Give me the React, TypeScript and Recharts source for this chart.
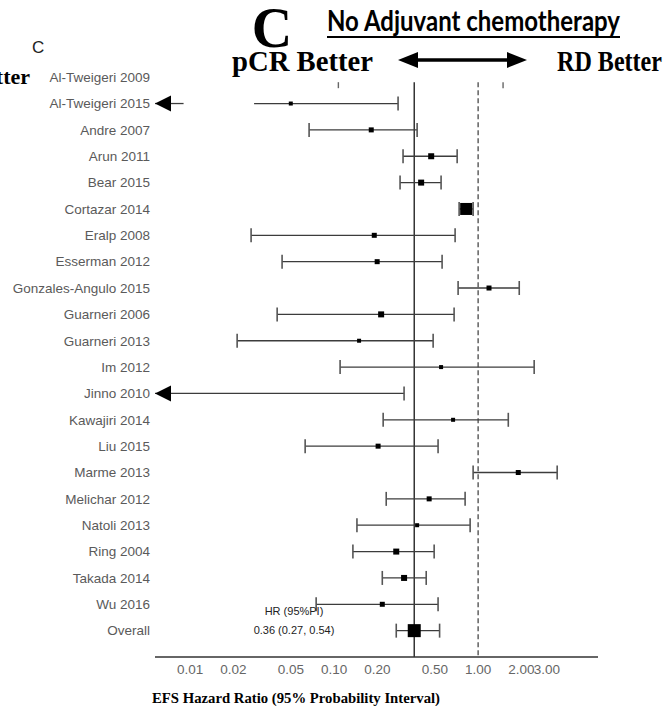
import React from "react";
import { ScatterChart, Scatter, XAxis, YAxis } from "recharts";

const studies = [
  "Al-Tweigeri 2009",
  "Al-Tweigeri 2015",
  "Andre 2007",
  "Arun 2011",
  "Bear 2015",
  "Cortazar 2014",
  "Eralp 2008",
  "Esserman 2012",
  "Gonzales-Angulo 2015",
  "Guarneri 2006",
  "Guarneri 2013",
  "Im 2012",
  "Jinno 2010",
  "Kawajiri 2014",
  "Liu 2015",
  "Marme 2013",
  "Melichar 2012",
  "Natoli 2013",
  "Ring 2004",
  "Takada 2014",
  "Wu 2016",
  "Overall",
];

// hazard ratio point estimates (null = not shown)
const hr = [
  null, 0.05, 0.181, 0.472, 0.402, 0.826, 0.19, 0.199, 1.19, 0.212, 0.149,
  0.553, null, 0.67, 0.202, 1.9, 0.457, 0.377, 0.27, 0.306, 0.216, 0.36,
];
// lower bound of 95% PI (null = truncated, drawn as arrow)
const lower = [
  0.107, 0.0278, 0.067, 0.301, 0.287, 0.738, 0.0265, 0.0435, 0.726, 0.0402,
  0.0212, 0.11, null, 0.219, 0.0629, 0.923, 0.23, 0.144, 0.135, 0.216, 0.075,
  0.27,
];
// upper bound of 95% PI
const upper = [
  1.49, 0.278, 0.377, 0.715, 0.553, 0.923, 0.692, 0.562, 1.93, 0.681, 0.487,
  2.45, 0.306, 1.62, 0.527, 3.54, 0.812, 0.88, 0.495, 0.436, 0.527, 0.54,
];
// relative study weight (marker size)
const weights = [
  0, 1, 2, 3, 3, 9, 2, 2, 2, 3, 1, 1, 0, 1, 2, 2, 2, 1, 3, 3, 2, 10,
];

const arrowStudies = ["Al-Tweigeri 2015", "Jinno 2010"];
const arrowShaftEnd = { "Al-Tweigeri 2015": 0.009 } as Record<string, number>;
const capsOnlyStudies = ["Al-Tweigeri 2009"];
const noLeftCapStudies = ["Al-Tweigeri 2015"];

const xTicks = [0.01, 0.02, 0.05, 0.1, 0.2, 0.5, 1, 2, 3];
const pooledHR = 0.36;
const nullHR = 1;
const X_MIN = 0.0057;
const X_MAX = 6.8;
const Y_TOP = 0.19;
const Y_BOTTOM = 22;

const EndShape = (props: any) => {
  const { cx, cy, payload } = props;
  if (cx == null || cy == null || !payload) return <g />;
  switch (payload.kind) {
    case "cap":
      return (
        <line x1={cx} x2={cx} y1={cy - 7} y2={cy + 7} stroke="#555" strokeWidth={1.6} />
      );
    case "arrow":
      return (
        <polygon
          points={`${cx},${cy} ${cx + 16},${cy - 8} ${cx + 16},${cy + 8}`}
          fill="#000"
        />
      );
    case "tick":
      return (
        <line x1={cx} x2={cx} y1={cy + 5} y2={cy + 11} stroke="#666" strokeWidth={1.4} />
      );
    default:
      return <g />;
  }
};

const SquareShape = (props: any) => {
  const { cx, cy, payload } = props;
  if (cx == null || cy == null || !payload) return <g />;
  const s = 3 + payload.w;
  return <rect x={cx - s / 2} y={cy - s / 2} width={s} height={s} fill="#000" />;
};

const NoShape = () => <g />;

type Pt = { x: number; y: number; kind: string };

const segments: { pts: Pt[]; line: boolean }[] = [];
studies.forEach((name, i) => {
  if (capsOnlyStudies.includes(name)) {
    segments.push({
      pts: [
        { x: lower[i] as number, y: i, kind: "tick" },
        { x: upper[i], y: i, kind: "tick" },
      ],
      line: false,
    });
    return;
  }
  if (arrowStudies.includes(name) && arrowShaftEnd[name] != null) {
    segments.push({
      pts: [
        { x: X_MIN, y: i, kind: "arrow" },
        { x: arrowShaftEnd[name], y: i, kind: "none" },
      ],
      line: true,
    });
  }
  const lo = lower[i];
  segments.push({
    pts: [
      {
        x: lo == null ? X_MIN : lo,
        y: i,
        kind: lo == null ? "arrow" : noLeftCapStudies.includes(name) ? "none" : "cap",
      },
      { x: upper[i], y: i, kind: "cap" },
    ],
    line: true,
  });
});

const squares = studies
  .map((name, i) => ({ x: hr[i], y: i, w: weights[i], name }))
  .filter((d) => d.x != null) as { x: number; y: number; w: number }[];

const pooledLineData = [
  { x: pooledHR, y: Y_TOP },
  { x: pooledHR, y: Y_BOTTOM },
];
const nullLineData = [
  { x: nullHR, y: Y_TOP },
  { x: nullHR, y: Y_BOTTOM },
];

const yTicks = studies.map((_, i) => i);

export default function App() {
  return (
    <div
      style={{
        position: "absolute",
        left: 0,
        top: 0,
        width: 668,
        height: 706,
        background: "#fff",
        overflow: "hidden",
      }}
    >
      <ScatterChart
        width={668}
        height={706}
        margin={{ top: 64, right: 70, bottom: 19, left: 0 }}
      >
        <XAxis
          type="number"
          dataKey="x"
          scale="log"
          domain={[X_MIN, X_MAX]}
          allowDataOverflow
          ticks={xTicks}
          interval={0}
          tickFormatter={(v: number) => v.toFixed(2)}
          tickLine={false}
          tickSize={0}
          tickMargin={7}
          height={30}
          axisLine={{ stroke: "#333", strokeWidth: 1.6 }}
          tick={{ fill: "#666", fontSize: 13.5, fontFamily: "Liberation Sans" }}
        />
        <YAxis
          type="number"
          dataKey="y"
          domain={[-0.5, 22]}
          reversed
          ticks={yTicks}
          interval={0}
          tickFormatter={(v: number) => studies[v] ?? ""}
          width={155}
          axisLine={false}
          tickLine={false}
          tickSize={0}
          tickMargin={5}
          tick={{ fill: "#5a5a5a", fontSize: 13.5, fontFamily: "Liberation Sans" }}
        />
        <Scatter
          data={pooledLineData}
          line={{ stroke: "#333", strokeWidth: 1.5 }}
          shape={NoShape}
          isAnimationActive={false}
        />
        <Scatter
          data={nullLineData}
          line={{ stroke: "#555", strokeWidth: 1.4, strokeDasharray: "5 3" }}
          shape={NoShape}
          isAnimationActive={false}
        />
        {segments.map((seg, k) => (
          <Scatter
            key={k}
            data={seg.pts}
            line={seg.line ? { stroke: "#3c3c3c", strokeWidth: 1.3 } : false}
            shape={EndShape}
            isAnimationActive={false}
          />
        ))}
        <Scatter data={squares} shape={SquareShape} isAnimationActive={false} />
      </ScatterChart>
      <svg
        width={668}
        height={706}
        style={{ position: "absolute", left: 0, top: 0, pointerEvents: "none" }}
      >
        <text
          x={272}
          y={47}
          textAnchor="middle"
          fontFamily="Liberation Serif"
          fontWeight="bold"
          fontSize={56}
          fill="#000"
        >
          C
        </text>
        <text x={32} y={53} fontFamily="Liberation Sans" fontSize={17} fill="#222">
          C
        </text>
        <text
          x={327}
          y={31}
          fontFamily="Lato"
          fontWeight="bold"
          fontSize={29}
          textLength={293}
          lengthAdjust="spacingAndGlyphs"
          fill="#000"
        >
          No Adjuvant chemotherapy
        </text>
        <line x1={327} x2={620} y1={37} y2={37} stroke="#000" strokeWidth={2} />
        <text
          x={232}
          y={71}
          fontFamily="Liberation Serif"
          fontWeight="bold"
          fontSize={29}
          textLength={141}
          lengthAdjust="spacingAndGlyphs"
          fill="#000"
        >
          pCR Better
        </text>
        <line x1={412} x2={513} y1={60} y2={60} stroke="#000" strokeWidth={3.5} />
        <polygon points="398,60 418,52 418,68" fill="#000" />
        <polygon points="527,60 507,52 507,68" fill="#000" />
        <text
          x={557}
          y={71}
          fontFamily="Liberation Serif"
          fontWeight="bold"
          fontSize={29}
          textLength={105}
          lengthAdjust="spacingAndGlyphs"
          fill="#000"
        >
          RD Better
        </text>
        <text
          x={30}
          y={84}
          textAnchor="end"
          fontFamily="Liberation Serif"
          fontWeight="bold"
          fontSize={22}
          fill="#000"
        >
          Better
        </text>
        <text
          x={294}
          y={615}
          textAnchor="middle"
          fontFamily="Liberation Sans"
          fontSize={11}
          fill="#222"
        >
          HR (95%PI)
        </text>
        <text
          x={294}
          y={634}
          textAnchor="middle"
          fontFamily="Liberation Sans"
          fontSize={11}
          fill="#222"
        >
          0.36 (0.27, 0.54)
        </text>
        <text
          x={152}
          y={703}
          fontFamily="Liberation Serif"
          fontWeight="bold"
          fontSize={15}
          textLength={288}
          lengthAdjust="spacingAndGlyphs"
          fill="#000"
        >
          EFS Hazard Ratio (95% Probability Interval)
        </text>
      </svg>
    </div>
  );
}
